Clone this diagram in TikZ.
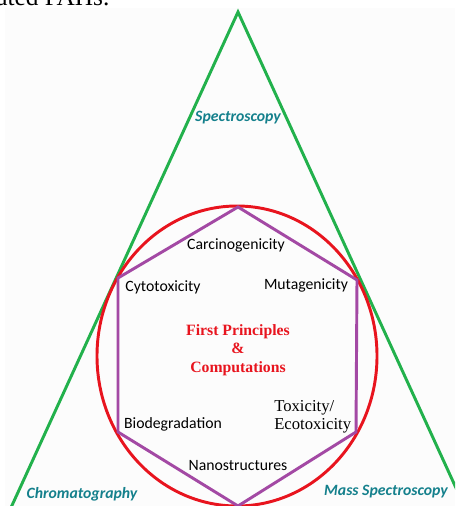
\documentclass[tikz,border=0pt]{standalone}
\usepackage{fontspec}
\setmainfont{Liberation Serif}
\newfontfamily\calfont{Carlito}
\usetikzlibrary{positioning}
\definecolor{trigreen}{RGB}{34,177,76}
\definecolor{ovalred}{RGB}{232,20,30}
\definecolor{hexpurple}{RGB}{163,73,164}
\definecolor{methteal}{RGB}{20,128,140}

\begin{document}
\begin{tikzpicture}[x=0.75pt, y=-0.75pt,
    method/.style={font=\calfont\fontsize{11.8}{14}\selectfont\bfseries\itshape, text=methteal, inner sep=0pt},
    effect/.style={font=\calfont\fontsize{11.8}{14}\selectfont, inner sep=0pt},
    core/.style={font=\fontsize{11.8}{13.9}\selectfont\bfseries, text=ovalred, align=center, inner sep=0pt},
    edge line/.style={line width=2.2pt, line join=miter}]
        \useasboundingbox (0,0) rectangle (455,506);
        \fill[black!1] (5,8) rectangle (455,506);
        \node[anchor=base west, font=\fontsize{19}{20}\selectfont, inner sep=0pt] (caption) at (-4,6) {ated PAHs.};
        % triangle
        \begin{scope}
            \clip (0,0) rectangle (455,506);
            \coordinate (tl) at (-13,560);
            \coordinate (ttop) at (238,12);
            \coordinate (tr) at (489,560);
            \draw[edge line, trigreen] (tl) -- (ttop) -- (tr);
        \end{scope}
        % oval
        \draw[edge line, ovalred] (237,356) ellipse (140 and 150);
        % hexagon
        \coordinate (htop) at (238,207);
        \coordinate (hur) at (357,280);
        \coordinate (hlr) at (356,432);
        \coordinate (hbot) at (238,506);
        \coordinate (hll) at (118,432);
        \coordinate (hul) at (118,278);
        \draw[edge line, hexpurple] (htop) -- (hur) -- (hlr) -- (hbot) -- (hll) -- (hul) -- cycle;
        % labels
        \node[method] (spec) at (238,118) {Spectroscopy};
        \node[method] (chrom) at (82,494) {Chromatography};
        \node[method] (mass) at (386,492) {Mass Spectroscopy};
        \node[effect] (carc) at (236,245) {Carcinogenicity};
        \node[effect] (cyto) at (163,287) {Cytotoxicity};
        \node[effect] (muta) at (306,285) {Mutagenicity};
        \node[effect] (biod) at (173,424) {Biodegradation};
        \node[effect] (nano) at (238,466) {Nanostructures};
        \node[anchor=west, align=left, inner sep=0pt, font=\fontsize{12.5}{13.5}\selectfont] (tox) at (274,417) {Toxicity/\\Ecotoxicity};
        \node[core] (fp) at (238,350) {First Principles\\\&\\Computations};
\end{tikzpicture}
\end{document}
